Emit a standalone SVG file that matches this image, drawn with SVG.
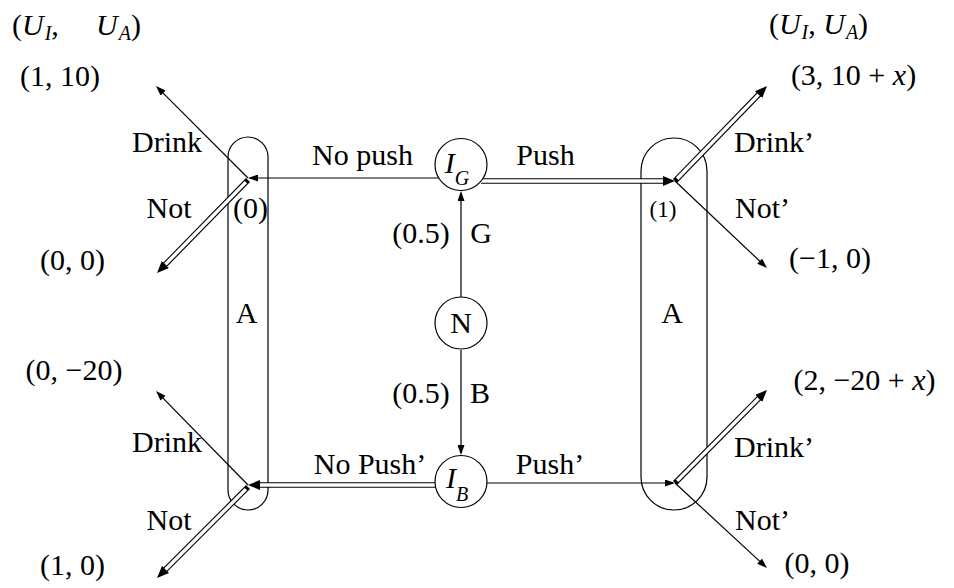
<svg xmlns="http://www.w3.org/2000/svg" width="954" height="588" viewBox="0 0 954 588">
  <defs>
    <!-- single-line arrow tip -->
    <marker id="tip" markerUnits="userSpaceOnUse" viewBox="0 0 10 7" markerWidth="10" markerHeight="7" refX="8" refY="3.5" orient="auto">
      <path d="M0,0 L10,3.5 L0,7 z" fill="#000"/>
    </marker>
    <!-- double-line arrow tip -->
    <marker id="tip2" markerUnits="userSpaceOnUse" viewBox="0 0 12 10" markerWidth="12" markerHeight="10" refX="4" refY="5" orient="auto">
      <path d="M0,0 L12,5 L0,10 z" fill="#000"/>
    </marker>
  </defs>
  <style>
    .lbl{font-family:"Liberation Serif","Times New Roman",serif;font-size:30px;fill:#000;text-anchor:middle}
    .start{text-anchor:start}
    .small{font-size:23px}
    .it{font-style:italic}
    .sub{font-size:20px;font-style:italic}
    .set{fill:none;stroke:#000;stroke-width:1.2}
    .node circle{fill:#fff;stroke:#000;stroke-width:1.2}
    .one{fill:none;stroke:#000;stroke-width:1.2;marker-end:url(#tip)}
    .two{fill:none;stroke:#000;stroke-width:5.6;marker-end:url(#tip2)}
    .gap{fill:none;stroke:#fff;stroke-width:3.4}
  </style>
  <rect width="954" height="588" fill="#fff"/>

  <!-- information sets of player A -->
  <g id="set-left">
    <rect class="set" x="228" y="137" width="40" height="373" rx="20" ry="20"/>
    <text class="lbl" x="246.5" y="323">A</text>
    <text class="lbl" x="250.5" y="218">(0)</text>
  </g>
  <g id="set-right">
    <rect class="set" x="641" y="138" width="66" height="372" rx="33" ry="33"/>
    <text class="lbl" x="672" y="323">A</text>
    <text class="lbl small" x="663" y="217">(1)</text>
  </g>

  <!-- connectors -->
  <g id="connectors">
    <!-- nature moves -->
    <path class="one" d="M461,297 L461,193"/>
    <path class="one" d="M461,350 L461,453"/>
    <!-- I_G moves -->
    <path class="one" d="M439,178 L250,178"/>
    <path class="two" d="M481,181 L667,181"/>
    <path class="gap" d="M481,181 L663,181"/>
    <!-- I_B moves -->
    <path class="two" d="M435,485 L256,485"/>
    <path class="gap" d="M435,485 L260,485"/>
    <path class="one" d="M487,483 L673,483"/>
    <!-- A moves, upper left -->
    <path class="one" d="M248,178 L157.4,87.4"/>
    <path class="two" d="M248,180 L162.6,267.3"/>
    <path class="gap" d="M245.9,182.1 L165.4,264.4"/>
    <!-- A moves, lower left -->
    <path class="one" d="M248,485 L157.4,392.4"/>
    <path class="two" d="M248,487 L162.7,572.3"/>
    <path class="gap" d="M245.9,489.1 L165.5,569.5"/>
    <!-- A moves, upper right -->
    <path class="two" d="M675,181 L761.4,91.8"/>
    <path class="gap" d="M677.1,178.8 L758.6,94.6"/>
    <path class="one" d="M675,181 L765.5,266.6"/>
    <!-- A moves, lower right -->
    <path class="two" d="M675,483 L761.4,395.7"/>
    <path class="gap" d="M677.1,480.9 L758.6,398.5"/>
    <path class="one" d="M675,483 L765.5,566.6"/>
  </g>

  <!-- chance and information nodes -->
  <g id="node-IG" class="node">
    <circle cx="461" cy="164.5" r="26"/>
    <text class="lbl" x="457" y="173"><tspan class="it">I</tspan><tspan class="sub" dy="12">G</tspan></text>
  </g>
  <g id="node-N" class="node">
    <circle cx="461" cy="323" r="26"/>
    <text class="lbl" x="461" y="333">N</text>
  </g>
  <g id="node-IB" class="node">
    <circle cx="461" cy="481.5" r="26"/>
    <text class="lbl" x="457" y="488"><tspan class="it">I</tspan><tspan class="sub" dy="13">B</tspan></text>
  </g>

  <!-- move labels -->
  <g id="move-labels">
    <text class="lbl" x="362.5" y="165">No push</text>
    <text class="lbl" x="545.5" y="165">Push</text>
    <text class="lbl" x="421" y="243">(0.5)</text>
    <text class="lbl" x="481" y="243">G</text>
    <text class="lbl" x="421" y="403">(0.5)</text>
    <text class="lbl" x="480" y="403">B</text>
    <text class="lbl" x="370" y="474">No Push’</text>
    <text class="lbl" x="550" y="474">Push’</text>
    <text class="lbl" x="167" y="152">Drink</text>
    <text class="lbl" x="169" y="218">Not</text>
    <text class="lbl" x="167" y="452">Drink</text>
    <text class="lbl" x="169" y="530">Not</text>
    <text class="lbl" x="774" y="152">Drink’</text>
    <text class="lbl" x="762.5" y="218">Not’</text>
    <text class="lbl" x="774" y="457">Drink’</text>
    <text class="lbl" x="762.5" y="530">Not’</text>
  </g>

  <!-- payoffs -->
  <g id="payoffs">
    <text class="lbl start" x="12" y="35">(<tspan class="it">U</tspan><tspan class="sub" dx="1" dy="5">I</tspan><tspan dy="-5">,</tspan></text>
    <text class="lbl start" x="96" y="35"><tspan class="it">U</tspan><tspan class="sub" dx="1" dy="5">A</tspan><tspan dy="-5">)</tspan></text>
    <text class="lbl" x="818.5" y="34">(<tspan class="it">U</tspan><tspan class="sub" dx="1" dy="5">I</tspan><tspan dy="-5">, </tspan><tspan class="it">U</tspan><tspan class="sub" dx="1" dy="5">A</tspan><tspan dy="-5">)</tspan></text>
    <text class="lbl" x="60" y="86">(1, 10)</text>
    <text class="lbl" x="72.5" y="270">(0, 0)</text>
    <text class="lbl" x="74" y="380">(0, −20)</text>
    <text class="lbl" x="72.5" y="575">(1, 0)</text>
    <text class="lbl" x="853.5" y="85">(3, 10 + <tspan class="it">x</tspan>)</text>
    <text class="lbl" x="830" y="268">(−1, 0)</text>
    <text class="lbl" x="864.5" y="390">(2, −20 + <tspan class="it">x</tspan>)</text>
    <text class="lbl" x="817" y="573">(0, 0)</text>
  </g>
</svg>
